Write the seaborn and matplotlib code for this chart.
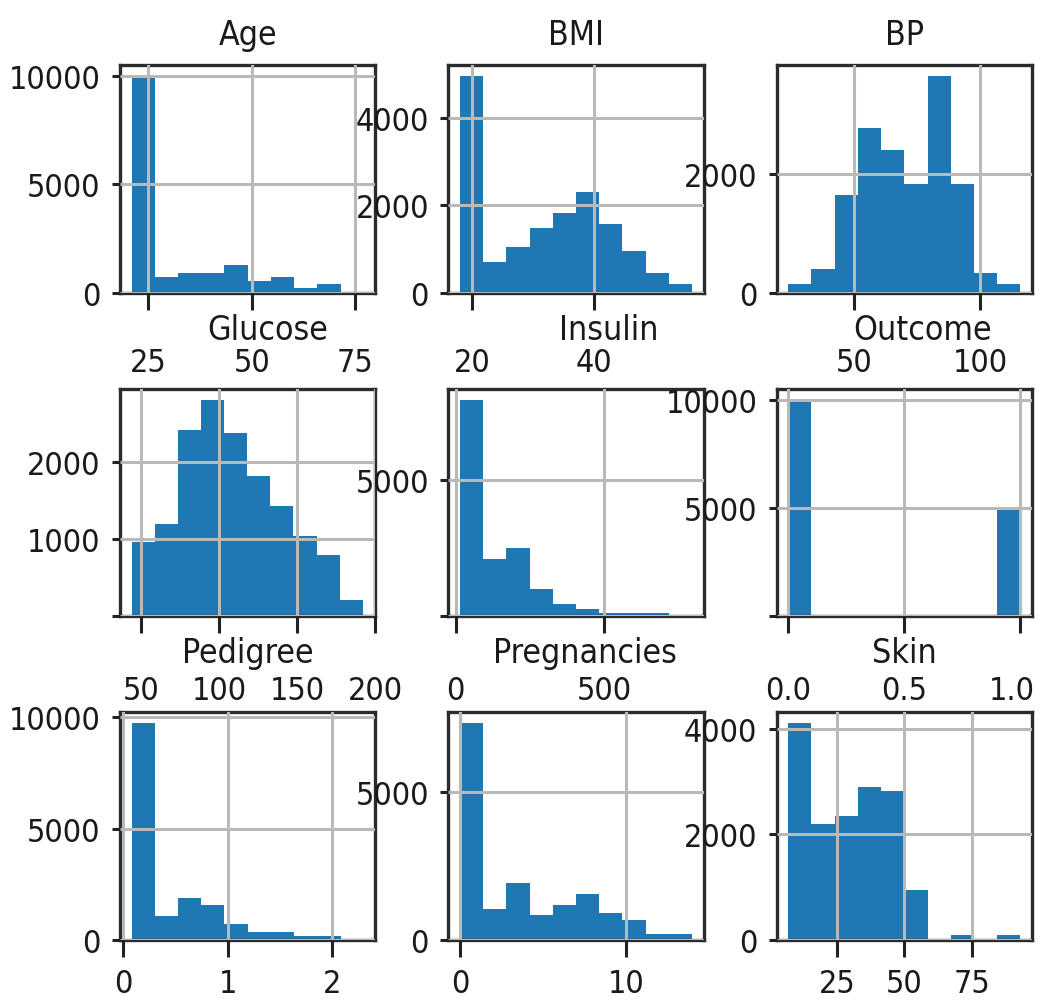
import numpy as np
import pandas as pd
import matplotlib
matplotlib.use("Agg")
import matplotlib.pyplot as plt
from matplotlib import font_manager
from matplotlib.transforms import ScaledTranslation
import seaborn as sns

# Column names, in the order pandas lays them out (alphabetical)
columns = ["Age", "BMI", "BP", "Glucose", "Insulin", "Outcome",
           "Pedigree", "Pregnancies", "Skin"]

# Value range (min, max) of every column; 10 equal-width bins span it
age_range = (21, 77)
bmi_range = (18, 56)
bp_range = (24, 116)
glucose_range = (44, 192)
insulin_range = (14, 796)
outcome_range = (0, 1)
pedigree_range = (0.078, 2.30)
pregnancies_range = (0, 14)
skin_range = (7, 93)

# Counts per bin
age_counts = [10030, 740, 920, 920, 1260, 550, 740, 230, 410, 10]
bmi_counts = [4980, 705, 1045, 1475, 1820, 2320, 1570, 955, 455, 205]
bp_counts = [150, 400, 1660, 2780, 2410, 1845, 3670, 1845, 335, 150]
glucose_counts = [960, 1200, 2420, 2810, 2375, 1820, 1430, 1035, 800, 215]
insulin_counts = [7960, 2115, 2525, 995, 435, 260, 110, 110, 110, 10]
outcome_counts = [10000, 0, 0, 0, 0, 0, 0, 0, 0, 5000]
pedigree_counts = [9730, 1080, 1880, 1555, 710, 355, 355, 180, 180, 10]
pregnancies_counts = [7320, 1055, 1920, 835, 1190, 1555, 920, 690, 190, 190]
skin_counts = [4105, 2200, 2345, 2905, 2830, 940, 0, 95, 0, 95]

# Tick positions / labels
age_xticks = [25, 50, 75]
bmi_xticks = [20, 40]
bp_xticks = [50, 100]
glucose_xticks = [50, 100, 150, 200]
insulin_xticks = [0, 500]
outcome_xticks = [0.0, 0.5, 1.0]
outcome_xticklabels = ["0.0", "0.5", "1.0"]
pedigree_xticks = [0, 1, 2]
pregnancies_xticks = [0, 10]
skin_xticks = [25, 50, 75]

age_yticks = [0, 5000, 10000]
bmi_yticks = [0, 2000, 4000]
bp_yticks = [0, 2000]
glucose_yticks = [0, 1000, 2000]
glucose_yticklabels = ["", "1000", "2000"]
insulin_yticks = [0, 5000]
insulin_yticklabels = ["", "5000"]
outcome_yticks = [0, 5000, 10000]
outcome_yticklabels = ["", "5000", "10000"]
pedigree_yticks = [0, 5000, 10000]
pregnancies_yticks = [0, 5000]
skin_yticks = [0, 2000, 4000]

ranges = [age_range, bmi_range, bp_range, glucose_range, insulin_range,
          outcome_range, pedigree_range, pregnancies_range, skin_range]
counts = [age_counts, bmi_counts, bp_counts, glucose_counts, insulin_counts,
          outcome_counts, pedigree_counts, pregnancies_counts, skin_counts]
xticks = [age_xticks, bmi_xticks, bp_xticks, glucose_xticks, insulin_xticks,
          outcome_xticks, pedigree_xticks, pregnancies_xticks, skin_xticks]
xticklabels = [None, None, None, None, None, outcome_xticklabels, None, None, None]
yticks = [age_yticks, bmi_yticks, bp_yticks, glucose_yticks, insulin_yticks,
          outcome_yticks, pedigree_yticks, pregnancies_yticks, skin_yticks]
yticklabels = [None, None, None, glucose_yticklabels, insulin_yticklabels,
               outcome_yticklabels, None, None, None]

# Pick a narrow sans face when one is installed
preferred = ["DejaVuSansCondensed.ttf", "RobotoCondensed-Regular",
             "LiberationSansNarrow-Regular", "OpenSans_Condensed-Regular",
             "OpenSansCondensed-Regular", "NotoSans-Condensed.ttf",
             "NotoSansCondensed-Regular"]
chosen = None
for key in preferred:
    for f in font_manager.fontManager.ttflist:
        if key in f.fname:
            chosen = f
            break
    if chosen is not None:
        break

if chosen is not None:
    plt.rcParams["font.family"] = [chosen.name, "DejaVu Sans"]
    plt.rcParams["font.stretch"] = chosen.stretch
else:
    plt.rcParams["font.family"] = ["DejaVu Sans"]
plt.rcParams["text.color"] = "#1a1a1a"
plt.rcParams["xtick.color"] = "#222222"
plt.rcParams["ytick.color"] = "#222222"
plt.rcParams["xtick.labelcolor"] = "#1a1a1a"
plt.rcParams["ytick.labelcolor"] = "#1a1a1a"

fig, axes = plt.subplots(3, 3, figsize=(10.4, 10.03), dpi=100)
fig.subplots_adjust(left=120 / 1040, right=1032 / 1040,
                    top=1 - 66 / 1003, bottom=1 - 941 / 1003,
                    wspace=0.286, hspace=0.423)

# Size the text so the widest tick label is about 92 px wide
renderer = fig.canvas.get_renderer()
probe = fig.text(0, 0, "10000", fontsize=20)
w20 = probe.get_window_extent(renderer).width
probe.remove()
fs = min(28, 20 * 92 / w20)
title_fs = fs * 1.05

# Title offsets (axes fraction) per panel
title_dx = [0, 0, 0, 0.08, 0.13, 0.07, 0, 0.035, 0]

for i, ax in enumerate(axes.flat):
    lo, hi = ranges[i]
    width = (hi - lo) / 10
    centers = lo + width * (np.arange(10) + 0.5)
    binned = pd.DataFrame({"value": centers,
                           "count": np.asarray(counts[i], dtype=float)})
    sns.histplot(data=binned, x="value", weights="count", bins=10,
                 binrange=(lo, hi), ax=ax, color="#1f77b4", alpha=1,
                 linewidth=0)
    ax.set_xlabel("")
    ax.set_ylabel("")
    ax.set_axisbelow(False)
    ax.grid(True, color="#b9b9b9", linewidth=2.2, zorder=1.5)

    if xticklabels[i] is None:
        ax.set_xticks(xticks[i])
    else:
        ax.set_xticks(xticks[i], xticklabels[i])
    if yticklabels[i] is None:
        ax.set_yticks(yticks[i])
    else:
        ax.set_yticks(yticks[i], yticklabels[i])

    row = i // 3
    xpad = [27, 30, 8][row]
    ax.tick_params(axis="x", length=12, width=2.2, pad=xpad, labelsize=fs)
    ax.tick_params(axis="y", length=6, width=2.2, pad=8, labelsize=fs)
    for sp in ax.spines.values():
        sp.set_color("#2b2b2b")
        sp.set_linewidth(2.4)

    tpad = 15 if row == 0 else 36
    ax.set_title(columns[i], x=0.5 + title_dx[i], pad=tpad, fontsize=title_fs)

# Keep the right-most Outcome tick label inside the figure
last = axes.flat[5].get_xticklabels()[-1]
last.set_transform(last.get_transform()
                   + ScaledTranslation(-6 / 72, 0, fig.dpi_scale_trans))

fig.savefig("out.png", dpi=100)
